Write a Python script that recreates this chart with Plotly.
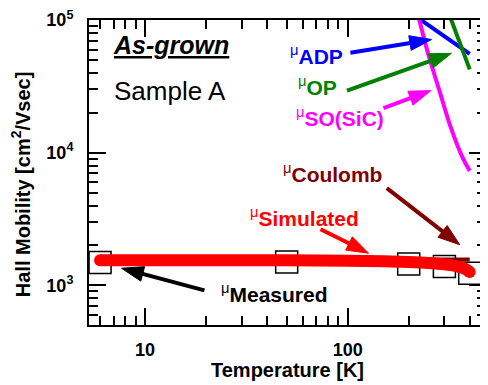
import plotly.graph_objects as go

# ---------------- data ----------------
T_meas = [6, 50, 200, 300, 400]
mu_meas = [1490, 1500, 1450, 1390, 1235]

T_sim = [6, 10, 20, 50, 100, 150, 200, 250, 300, 350, 380, 400]
mu_sim = [1550, 1550, 1548, 1545, 1535, 1520, 1500, 1475, 1440, 1385, 1330, 1260]

T_coul = [6, 10, 20, 50, 100, 200, 300, 400]
mu_coul = [1555, 1555, 1556, 1558, 1560, 1563, 1566, 1568]

T_adp = [220, 250, 300, 350, 400]
mu_adp = [105000, 92000, 75700, 64200, 55600]

T_op = [320, 350, 380, 400]
mu_op = [106000, 74700, 53700, 42500]

T_so = [225, 250, 285, 320, 370, 400]
mu_so = [102000, 55000, 28600, 16100, 9100, 7300]

x_major = [10, 100]
x_major_text = ["10", "100"]
x_minor = [6, 7, 8, 9, 20, 30, 40, 50, 60, 70, 80, 90, 200, 300, 400]
y_major = [1e3, 1e4, 1e5]
y_major_text = ["10<sup>3</sup>", "10<sup>4</sup>", "10<sup>5</sup>"]
y_minor = [600, 700, 800, 900] + [k * 1000 for k in range(2, 10)] + [k * 10000 for k in range(2, 10)]

FONT = "Liberation Sans, Arial, sans-serif"

# page is 488x385; the html body has an 8px margin, so the figure is 480x377
OFF = 8
W, H = 488 - OFF, 385 - OFF
# plot area in page pixels: x 89..488, y 17..325
ML, MR, MT, MB = 89 - OFF, 0, 17 - OFF, 385 - 325
PW, PH = W - ML - MR, H - MT - MB


def pp(x, y):
    """page pixel -> paper coordinates"""
    return (x - OFF - ML) / PW, (H - MB - (y - OFF)) / PH


fig = go.Figure()

fig.add_trace(go.Scatter(x=T_meas, y=mu_meas, mode="markers",
                         marker=dict(symbol="square-open", size=22, color="black",
                                     line=dict(width=1.5, color="black")),
                         showlegend=False))
fig.add_trace(go.Scatter(x=T_coul, y=mu_coul, mode="lines",
                         line=dict(color="#800000", width=4), showlegend=False))
fig.add_trace(go.Scatter(x=T_sim, y=mu_sim, mode="lines",
                         line=dict(color="#FF0000", width=12, shape="spline"), showlegend=False))
fig.add_trace(go.Scatter(x=[T_sim[0], T_sim[-1]], y=[mu_sim[0], mu_sim[-1]], mode="markers",
                         marker=dict(symbol="circle", size=12, color="#FF0000"), showlegend=False))
fig.add_trace(go.Scatter(x=T_adp, y=mu_adp, mode="lines",
                         line=dict(color="#0000FF", width=4), showlegend=False))
fig.add_trace(go.Scatter(x=T_op, y=mu_op, mode="lines",
                         line=dict(color="#008000", width=4), showlegend=False))
fig.add_trace(go.Scatter(x=T_so, y=mu_so, mode="lines",
                         line=dict(color="#FF00FF", width=4, shape="spline"), showlegend=False))

# ---------------- arrows ----------------
arrows = [
    ((351.7, 50.0), (433.3, 36.7), "#0000FF"),
    ((348.3, 88.3), (453.3, 50.7), "#008000"),
    ((385.0, 106.0), (432.7, 88.3), "#FF00FF"),
    ((388.3, 186.7), (461.7, 244.0), "#800000"),
    ((321.7, 228.3), (370.0, 252.5), "#FF0000"),
    ((205.0, 290.0), (121.7, 267.7), "#000000"),
]
shapes = []
HL, HW = 22.0, 7.5
for (x0, y0), (x1, y1), col in arrows:
    dx, dy = x1 - x0, y1 - y0
    L = (dx * dx + dy * dy) ** 0.5
    ux, uy = dx / L, dy / L
    bx, by = x1 - ux * HL, y1 - uy * HL
    nx, ny = -uy, ux
    a = pp(x0, y0)
    b = pp(bx + ux * 2, by + uy * 2)
    shapes.append(dict(type="line", xref="paper", yref="paper",
                       x0=a[0], y0=a[1], x1=b[0], y1=b[1],
                       line=dict(color=col, width=4)))
    p1 = pp(x1, y1)
    p2 = pp(bx + nx * HW, by + ny * HW)
    p3 = pp(bx - nx * HW, by - ny * HW)
    path = f"M{p1[0]},{p1[1]} L{p2[0]},{p2[1]} L{p3[0]},{p3[1]} Z"
    shapes.append(dict(type="path", xref="paper", yref="paper", path=path,
                       fillcolor=col, line=dict(color=col, width=1)))

# ---------------- labels ----------------
labels = [
    ("<sup>μ</sup><b>ADP</b>", 318, 52, "#0000FF", 21),
    ("<sup>μ</sup><b>OP</b>", 319, 84, "#008000", 21),
    ("<sup>μ</sup><b>SO(SiC)</b>", 341, 115, "#FF00FF", 21),
    ("<sup>μ</sup><b>Coulomb</b>", 334, 172, "#800000", 21),
    ("<sup>μ</sup><b>Simulated</b>", 306, 216, "#FF0000", 21),
    ("<sup>μ</sup><b>Measured</b>", 275, 293, "#000000", 21),
    ("<b><i><u>As-grown</u></i></b>", 171, 42, "#000000", 25),
    ("Sample A", 170, 89, "#000000", 26),
]
annotations = []
for txt, x, y, col, fs in labels:
    p = pp(x, y)
    annotations.append(dict(text=txt, x=p[0], y=p[1], xref="paper", yref="paper",
                            xanchor="center", yanchor="middle", showarrow=False,
                            font=dict(family=FONT, size=fs, color=col)))

p = pp(289, 370)
annotations.append(dict(text="<b>Temperature [K]</b>", x=p[0], y=p[1], xref="paper", yref="paper",
                        xanchor="center", yanchor="middle", showarrow=False,
                        font=dict(family=FONT, size=20, color="black")))
p = pp(21, 182.5)
annotations.append(dict(text="<b>Hall Mobility [cm<sup>2</sup>/Vsec]</b>", x=p[0], y=p[1],
                        xref="paper", yref="paper", textangle=-90,
                        xanchor="center", yanchor="middle", showarrow=False,
                        font=dict(family=FONT, size=20, color="black")))

axis_common = dict(showline=True, linewidth=2, linecolor="black", mirror="ticks",
                   ticks="inside", ticklen=17, tickwidth=2, tickcolor="black",
                   showgrid=False, zeroline=False, ticklabeloverflow="allow")

fig.update_layout(
    width=W, height=H,
    margin=dict(l=ML, r=MR, t=MT, b=MB),
    paper_bgcolor="white", plot_bgcolor="white",
    showlegend=False,
    shapes=shapes, annotations=annotations,
    xaxis=dict(type="log", range=[0.7236, 2.6824], tickmode="array",
               tickvals=x_major, ticktext=x_major_text,
               tickfont=dict(family=FONT, size=18, color="black", weight="bold"),
               ticklabelstandoff=7,
               minor=dict(tickmode="array", tickvals=x_minor, ticks="inside", ticklen=9,
                          tickwidth=2, tickcolor="black", showgrid=False),
               **axis_common),
    yaxis=dict(type="log", range=[2.7013, 5.0008], tickmode="array",
               tickvals=y_major, ticktext=y_major_text,
               tickfont=dict(family=FONT, size=18, color="black", weight="bold"),
               ticklabelstandoff=10,
               minor=dict(tickmode="array", tickvals=y_minor, ticks="inside", ticklen=9,
                          tickwidth=2, tickcolor="black", showgrid=False),
               **axis_common),
)

fig.write_html("out.html")
